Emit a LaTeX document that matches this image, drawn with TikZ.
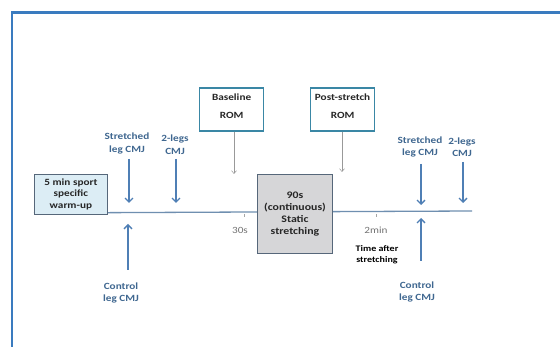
\documentclass[tikz,border=0pt]{standalone}
\usepackage{fontspec}
\setmainfont{Carlito}
\newfontfamily\lf[FakeStretch=1.18]{Carlito}
\usetikzlibrary{arrows.meta}
\definecolor{frameblue}{HTML}{3A7BBF}
\definecolor{arrblue}{HTML}{4F7FB5}
\definecolor{lineblue}{HTML}{6F8FB0}
\definecolor{labblue}{HTML}{3F6790}
\definecolor{teal}{HTML}{3A87A5}
\definecolor{warmfill}{HTML}{DCEDF5}
\definecolor{boxgray}{HTML}{D6D6D8}
\definecolor{boxedge}{HTML}{56677A}
\begin{document}
\begin{tikzpicture}[x=1pt,y=-1pt,
  lab/.style={font=\lf\bfseries\fontsize{9.5}{12.5}\selectfont, text=labblue, align=center, inner sep=0pt},
  blk/.style={font=\lf\bfseries\fontsize{9.5}{11.5}\selectfont, text=black!85, align=center, inner sep=0pt},
  bigarrow/.style={draw=arrblue, line width=1.6pt, -{Straight Barb[length=4pt,width=8pt,line width=1.4pt]}},
  thinarrow/.style={draw=black!40, line width=0.5pt, -{Straight Barb[length=3pt,width=5pt]}},
  rombox/.style={draw=teal, line width=1.2pt, fill=white, minimum width=64pt, minimum height=43pt, inner sep=0pt},
  tick/.style={draw=black!35, line width=0.5pt}]
\useasboundingbox (0,0) rectangle (560,347);
\fill[white] (0,0) rectangle (560,347);
% frame
\draw[frameblue, line width=2.5pt] (12,347) -- (12,12.5) -- (560,12.5);
% timeline
\coordinate (tl0) at (34,213);
\coordinate (tl1) at (472,211);
\draw[lineblue, line width=1.3pt] (tl0) -- (tl1);
% warm-up box
\node[draw=boxedge, line width=0.8pt, fill=warmfill, minimum width=73pt, minimum height=40pt, inner sep=0pt, anchor=north west] (warm) at (34,174) {};
\node[blk] at (warm.center) {5 min sport\\specific\\warm-up};
% stretching box
\node[draw=boxedge, line width=1pt, fill=boxgray, minimum width=75pt, minimum height=79pt, inner sep=0pt, anchor=north west] (stretch) at (257,174) {};
\node[blk, font=\lf\bfseries\fontsize{10}{12}\selectfont] at (stretch.center) {90s\\(continuous)\\Static\\stretching};
% ROM boxes
\node[rombox, anchor=north west] (base) at (199,87.5) {};
\node[blk] at ([yshift=-9.5pt]base.north) {Baseline};
\node[blk] at ([yshift=-27.5pt]base.north) {ROM};
\node[rombox, anchor=north west] (post) at (310,87.5) {};
\node[blk] at ([yshift=-9.5pt]post.north) {Post-stretch};
\node[blk] at ([yshift=-27.5pt]post.north) {ROM};
\coordinate (baseend) at (234,174);
\coordinate (postend) at (342,172);
\draw[thinarrow] (base.south -| baseend) -- (baseend);
\draw[thinarrow] (post.south -| postend) -- (postend);
% ticks
\coordinate (t30) at (244,214.5);
\coordinate (t2m) at (376,214.5);
\draw[tick] (t30) -- ++(0,3);
\draw[tick] (t2m) -- ++(0,3);
\node[font=\lf\fontsize{9.5}{10}\selectfont, text=black!55, inner sep=0pt] (l30) at (240,230) {30s};
\node[font=\lf\fontsize{9.5}{10}\selectfont, text=black!55, inner sep=0pt] (l2m) at (376,230) {2min};
\node[font=\lf\bfseries\fontsize{8.5}{10.5}\selectfont, align=center, inner sep=0pt] (tas) at (377,254.5) {Time after\\stretching};
% left labels & arrows
\node[lab] (s1) at (127,143.5) {Stretched\\leg CMJ};
\node[lab] (b1) at (175,144.5) {2-legs\\CMJ};
\node[lab] (c1) at (121,293) {Control\\leg CMJ};
\coordinate (s1a) at (129,159); \coordinate (s1b) at (129,203);
\coordinate (b1a) at (176,159); \coordinate (b1b) at (176,203);
\coordinate (c1a) at (128,270); \coordinate (c1b) at (128,224);
\draw[bigarrow] (s1a) -- (s1b);
\draw[bigarrow] (b1a) -- (b1b);
\draw[bigarrow] (c1a) -- (c1b);
% right labels & arrows
\node[lab] (s2) at (420,147) {Stretched\\leg CMJ};
\node[lab] (b2) at (462,147) {2-legs\\CMJ};
\node[lab] (c2) at (417,292) {Control\\leg CMJ};
\coordinate (s2a) at (421,164); \coordinate (s2b) at (421,205);
\coordinate (b2a) at (463,162); \coordinate (b2b) at (463,203);
\coordinate (c2a) at (421,261); \coordinate (c2b) at (421,218);
\draw[bigarrow] (s2a) -- (s2b);
\draw[bigarrow] (b2a) -- (b2b);
\draw[bigarrow] (c2a) -- (c2b);
\end{tikzpicture}
\end{document}
